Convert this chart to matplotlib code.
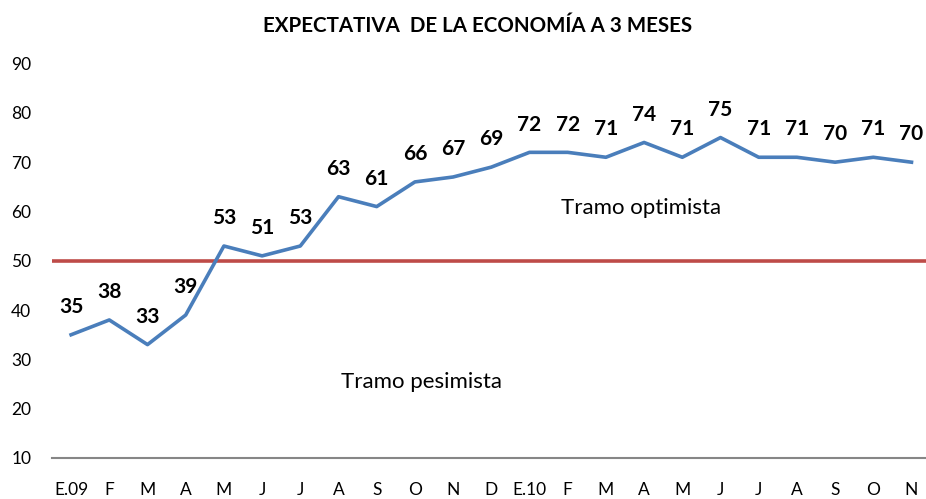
import matplotlib
matplotlib.use("Agg")
import matplotlib.pyplot as plt

months = ["E.09", "F", "M", "A", "M", "J", "J", "A", "S", "O", "N", "D",
          "E.10", "F", "M", "A", "M", "J", "J", "A", "S", "O", "N"]
values = [35, 38, 33, 39, 53, 51, 53, 63, 61, 66, 67, 69,
          72, 72, 71, 74, 71, 75, 71, 71, 70, 71, 70]
threshold = 50
yticks = [10, 20, 30, 40, 50, 60, 70, 80, 90]

plt.rcParams['font.family'] = ['Lato', 'DejaVu Sans']

fig = plt.figure(figsize=(9.26, 4.99), dpi=100)
ax = fig.add_axes([52/926, 41/499, 878.6/926, 394.4/499])

x = list(range(len(values)))
ax.axhline(threshold, color="#be4b48", lw=2.6, zorder=2)
ax.plot(x, values, color="#4a7ebb", lw=2.6, zorder=3)

for xi, v in zip(x, values):
    ax.annotate(str(v), (xi, v), xytext=(0, 20), textcoords="offset points",
                ha="center", va="center", fontsize=15, fontweight="bold")

ax.text(14.92, 60.7, "Tramo optimista", ha="center", va="center", fontsize=16)
ax.text(9.17, 25.4, "Tramo pesimista", ha="center", va="center", fontsize=16)

ax.set_xlim(-0.5, len(values) - 0.5)
ax.set_ylim(10, 90)
ax.set_yticks(yticks)
ax.set_xticks(x)
ax.set_xticklabels(months)
ax.tick_params(axis="both", length=0, labelsize=12.5)
ax.tick_params(axis="x", pad=17)
ax.tick_params(axis="y", pad=15)
for s in ["top", "right", "left"]:
    ax.spines[s].set_visible(False)
ax.spines["bottom"].set_color("#868686")
ax.spines["bottom"].set_linewidth(1.5)

fig.text(478/926, 1 - 26/499, "EXPECTATIVA  DE LA ECONOMÍA A 3 MESES",
         ha="center", va="center", fontsize=14.8, fontweight="bold")

fig.savefig("out.png", dpi=100)
